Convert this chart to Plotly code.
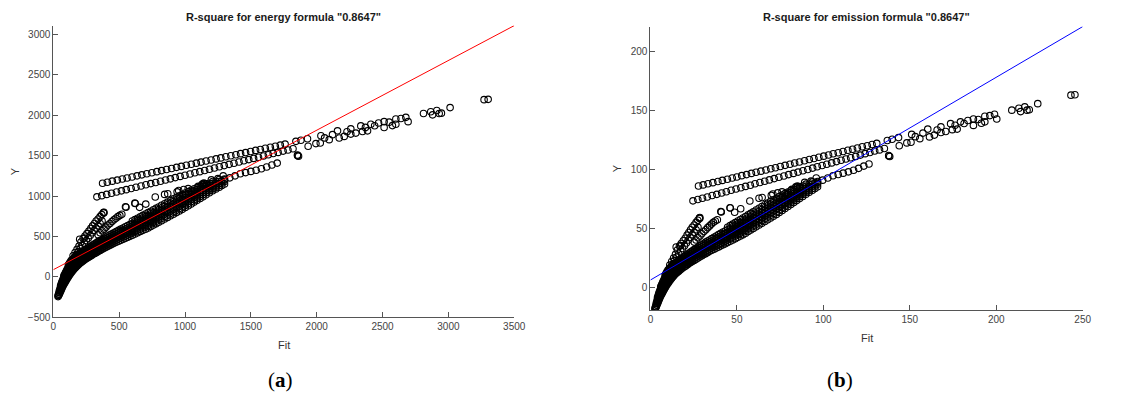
import plotly.graph_objects as go

# ---------------- energy panel data (Fit, Y) ----------------
# dense band, column by column: one x value and the y values read at that x
energy_band_x = [36, 45, 55, 65, 75, 85, 95, 108, 120, 135, 150, 165, 180, 200, 220, 240, 265, 290,
                 315, 340, 370, 400, 430, 460, 495, 530, 565, 600, 640, 680, 720, 760, 800, 845,
                 890, 935, 980, 1025, 1070, 1115, 1160, 1210, 1260, 1300,
                 40, 50, 60, 70, 80, 90, 101, 114, 127, 142, 157, 172, 190, 210, 230, 252, 277, 302,
                 327, 355, 385, 415, 445, 477, 512, 547, 582, 620, 660, 700, 740, 780, 822, 867, 912,
                 957, 1002, 1047, 1092, 1137, 1185, 1235, 1280]
energy_band_y = [
    [-245, -232], [-215, -195, -175], [-178, -155, -130, -110], [-142, -118, -92, -65],
    [-106, -82, -55, -25], [-76, -50, -22, 5, 25], [-50, -25, 0, 30, 60], [-15, 10, 40, 70, 100],
    [15, 40, 70, 100, 130, 160], [50, 75, 105, 135, 165, 200], [80, 105, 130, 160, 190, 220],
    [110, 132, 158, 185, 215, 245], [135, 158, 182, 208, 236, 265], [165, 188, 212, 238, 264, 290],
    [190, 212, 236, 260, 285, 310], [215, 237, 260, 283, 306, 330], [240, 262, 285, 308, 331, 355],
    [265, 287, 310, 333, 356, 380], [290, 313, 337, 361, 385, 410], [312, 336, 360, 385, 410, 435],
    [340, 364, 388, 412, 436, 460], [365, 390, 415, 440, 465, 490], [390, 416, 442, 468, 494, 520],
    [415, 441, 467, 493, 519, 545], [440, 467, 494, 521, 548, 575], [465, 493, 521, 549, 577, 605],
    [490, 518, 547, 576, 605, 635], [515, 544, 573, 602, 631, 660, 690],
    [545, 575, 605, 635, 665, 695, 725], [575, 605, 635, 665, 697, 728, 760],
    [605, 636, 667, 698, 730, 762, 795], [640, 671, 702, 733, 765, 797, 830],
    [675, 706, 737, 768, 800, 832, 865], [715, 746, 777, 808, 840, 872, 905],
    [755, 786, 817, 848, 880, 912, 945], [795, 826, 857, 888, 920, 952, 985],
    [835, 866, 897, 928, 959, 990, 1020], [880, 910, 940, 970, 1000, 1028, 1055],
    [925, 953, 981, 1009, 1036, 1063, 1090], [970, 996, 1022, 1048, 1073, 1097, 1120],
    [1015, 1040, 1065, 1090, 1113, 1135, 1150], [1065, 1088, 1111, 1134, 1157, 1180],
    [1110, 1133, 1156, 1180, 1205], [1150, 1180, 1210],
    [-230, -214], [-196, -175, -152], [-160, -136, -111, -88], [-124, -100, -74, -45],
    [-91, -66, -38, -10, 12], [-63, -38, -11, 17, 42], [-32, -8, 20, 50, 80],
    [0, 25, 55, 85, 115, 145], [32, 57, 87, 117, 147, 180], [65, 90, 118, 148, 178, 210],
    [95, 118, 144, 172, 202, 232], [122, 145, 170, 196, 225, 255], [150, 173, 197, 223, 250, 278],
    [178, 200, 224, 249, 274, 300], [202, 224, 248, 271, 295, 320], [228, 250, 272, 295, 318, 342],
    [252, 274, 297, 320, 343, 367], [278, 300, 323, 347, 370, 395], [301, 324, 348, 373, 397, 422],
    [326, 350, 374, 398, 423, 448], [352, 377, 401, 426, 450, 475], [378, 403, 428, 454, 480, 505],
    [402, 428, 454, 480, 506, 532], [428, 454, 480, 507, 533, 560], [452, 480, 507, 535, 562, 590],
    [478, 506, 534, 562, 591, 620], [502, 531, 560, 589, 618, 647],
    [530, 560, 589, 618, 648, 678, 708], [560, 590, 620, 650, 681, 712, 742],
    [590, 620, 651, 682, 714, 745, 778], [622, 654, 684, 716, 748, 780, 812],
    [658, 688, 720, 750, 782, 814, 848], [695, 726, 757, 788, 820, 852, 885],
    [735, 766, 797, 828, 860, 892, 925], [775, 806, 837, 868, 900, 932, 965],
    [815, 846, 877, 908, 940, 971, 1002], [858, 888, 918, 949, 980, 1009, 1038],
    [902, 932, 960, 990, 1018, 1046, 1072], [948, 975, 1002, 1028, 1054, 1080, 1105],
    [992, 1018, 1044, 1069, 1093, 1116, 1135], [1040, 1064, 1088, 1112, 1135, 1158],
    [1088, 1110, 1134, 1157, 1181], [1130, 1160, 1190],
]
energy_other_x = [
    # branch 1 (steep chain) + isolated
    150, 165, 180, 195, 210, 226, 240, 255, 270, 285, 298, 312, 325, 340, 355, 368, 381, 384, 383, 200, 235,
    160, 175, 190, 205, 220, 235, 250, 265, 280, 295, 310, 325, 340, 355, 370,
    # branch 2
    340, 355, 370, 385, 400, 415, 430, 445, 460, 475, 490, 505, 520, 548, 552, 619, 622,
    # scattered above band
    774, 845, 869, 940, 952, 1024, 1060, 1131, 1143, 1146, 655, 702, 1290, 1250, 1200, 990, 1100,
    # row A
    374, 410, 448, 486, 524, 560, 598, 636, 672, 710, 748, 786, 822, 860, 898, 936, 972, 1010, 1048,
    1086, 1122, 1160, 1198, 1236, 1272, 1310, 1348, 1386, 1422, 1460, 1498, 1536, 1572, 1610, 1648,
    1686, 1724, 1760,
    # row B
    331, 368, 405, 442, 480, 517, 554, 591, 628, 666, 703, 740, 777, 814, 852, 889, 926, 963, 1000,
    1038, 1075, 1112, 1149, 1186, 1224, 1261, 1298, 1335, 1372, 1410, 1447, 1484, 1521, 1558, 1596,
    1633, 1670, 1707, 1745, 1782, 1820,
    # row C
    1300, 1340, 1380, 1420, 1460, 1500, 1540, 1580, 1620, 1660, 1700, 1855, 1862,
    # sparse upper right
    1842, 1930, 2032, 2158, 2259, 2335, 2411, 2512, 2601, 2677, 2811, 2866, 2912, 3013, 3271, 3302,
    1854, 1935, 1994, 2027, 2095, 2171, 2209, 2259, 2297, 2348, 2386, 2512, 2575, 2601, 2694, 2930, 2947,
    1880, 2060, 2120, 2230, 2370, 2440, 2470, 2550, 2640, 2880,
]
energy_other_y = [
    260, 300, 340, 380, 430, 475, 505, 535, 565, 600, 630, 660, 690, 715, 745, 770, 795, 800, 790, 465, 480,
    240, 275, 312, 350, 385, 418, 448, 478, 510, 545, 575, 605, 632, 660, 690,
    520, 545, 570, 590, 615, 640, 660, 685, 705, 725, 745, 760, 775, 868, 862, 912, 908,
    988, 1020, 1028, 1052, 1068, 1092, 1060, 1148, 1160, 1150, 860, 900, 1250, 1215, 1200, 1080, 1120,
    1158, 1171, 1184, 1197, 1210, 1223, 1236, 1250, 1262, 1276, 1289, 1302, 1315, 1328, 1341, 1355, 1367,
    1381, 1394, 1407, 1420, 1433, 1446, 1460, 1472, 1486, 1499, 1512, 1525, 1538, 1551, 1565, 1577, 1591,
    1604, 1617, 1630, 1643,
    990, 1005, 1020, 1034, 1050, 1064, 1079, 1094, 1109, 1124, 1139, 1154, 1168, 1183, 1198, 1213, 1228,
    1243, 1258, 1273, 1288, 1302, 1317, 1332, 1347, 1362, 1377, 1392, 1406, 1422, 1436, 1451, 1466, 1481,
    1496, 1511, 1526, 1540, 1556, 1570, 1586,
    1200, 1225, 1250, 1275, 1290, 1305, 1320, 1338, 1360, 1385, 1408, 1500, 1494,
    1677, 1710, 1746, 1807, 1832, 1868, 1888, 1921, 1953, 1974, 2022, 2043, 2059, 2095, 2193, 2197,
    1507, 1617, 1649, 1657, 1698, 1718, 1738, 1767, 1779, 1799, 1807, 1848, 1872, 1888, 1921, 2022, 2026,
    1690, 1720, 1760, 1795, 1850, 1870, 1905, 1915, 1960, 2005,
]
energy_fit_x = [0, 3500]
energy_fit_y = [88, 3110]

# ---------------- emission panel data (Fit, Y) ----------------
emission_band_x = [2.68, 3.35, 4.09, 4.83, 5.58, 6.32, 7.06, 8.03, 8.92, 10.04, 11.15, 12.27, 13.38,
                   14.87, 16.36, 17.84, 19.70, 21.56, 23.42, 25.28, 27.51, 29.74, 31.97, 34.20, 36.80,
                   39.41, 42.01, 44.61, 47.58, 50.56, 53.53, 56.51, 59.48, 62.83, 66.17, 69.52, 72.86,
                   76.21, 79.55, 82.90, 86.25, 89.96, 93.68, 96.65,
                   2.97, 3.72, 4.46, 5.20, 5.95, 6.69, 7.51, 8.48, 9.44, 10.56, 11.67, 12.79, 14.13,
                   15.61, 17.10, 18.74, 20.59, 22.45, 24.31, 26.39, 28.62, 30.86, 33.09, 35.46, 38.07,
                   40.67, 43.27, 46.10, 49.07, 52.04, 55.02, 57.99, 61.12, 64.46, 67.81, 71.15, 74.50,
                   77.84, 81.19, 84.54, 88.10, 91.82, 95.17]
emission_band_y = [
    [-18.2, -17.2], [-16.0, -14.5, -13.0], [-13.2, -11.5, -9.7, -8.2], [-10.6, -8.8, -6.8, -4.8],
    [-7.9, -6.1, -4.1, -1.9], [-5.7, -3.7, -1.6, 0.4, 1.9], [-3.7, -1.9, 0.0, 2.2, 4.5],
    [-1.1, 0.7, 3.0, 5.2, 7.4], [1.1, 3.0, 5.2, 7.4, 9.7, 11.9], [3.7, 5.6, 7.8, 10.0, 12.3, 14.9],
    [5.9, 7.8, 9.7, 11.9, 14.1, 16.4], [8.2, 9.8, 11.7, 13.8, 16.0, 18.2],
    [10.0, 11.7, 13.5, 15.5, 17.5, 19.7], [12.3, 14.0, 15.8, 17.7, 19.6, 21.6],
    [14.1, 15.8, 17.5, 19.3, 21.2, 23.0], [16.0, 17.6, 19.3, 21.0, 22.8, 24.5],
    [17.8, 19.5, 21.2, 22.9, 24.6, 26.4], [19.7, 21.3, 23.0, 24.8, 26.5, 28.3],
    [21.6, 23.3, 25.1, 26.8, 28.6, 30.5], [23.2, 25.0, 26.8, 28.6, 30.5, 32.3],
    [25.3, 27.1, 28.8, 30.6, 32.4, 34.2], [27.1, 29.0, 30.9, 32.7, 34.6, 36.4],
    [29.0, 30.9, 32.9, 34.8, 36.7, 38.7], [30.9, 32.8, 34.7, 36.7, 38.6, 40.5],
    [32.7, 34.7, 36.7, 38.7, 40.7, 42.8], [34.6, 36.7, 38.7, 40.8, 42.9, 45.0],
    [36.4, 38.5, 40.7, 42.8, 45.0, 47.2], [38.3, 40.4, 42.6, 44.8, 46.9, 49.1, 51.3],
    [40.5, 42.8, 45.0, 47.2, 49.4, 51.7, 53.9], [42.8, 45.0, 47.2, 49.4, 51.8, 54.1, 56.5],
    [45.0, 47.3, 49.6, 51.9, 54.3, 56.7, 59.1], [47.6, 49.9, 52.2, 54.5, 56.9, 59.3, 61.7],
    [50.2, 52.5, 54.8, 57.1, 59.5, 61.9, 64.3], [53.2, 55.5, 57.8, 60.1, 62.5, 64.8, 67.3],
    [56.1, 58.4, 60.7, 63.0, 65.4, 67.8, 70.3], [59.1, 61.4, 63.7, 66.0, 68.4, 70.8, 73.2],
    [62.1, 64.4, 66.7, 69.0, 71.3, 73.6, 75.8], [65.4, 67.7, 69.9, 72.1, 74.3, 76.4, 78.4],
    [68.8, 70.9, 72.9, 75.0, 77.0, 79.0, 81.0], [72.1, 74.1, 76.0, 77.9, 79.8, 81.6, 83.3],
    [75.5, 77.3, 79.2, 81.0, 82.8, 84.4, 85.5], [79.2, 80.9, 82.6, 84.3, 86.0, 87.7],
    [82.5, 84.2, 85.9, 87.7, 89.6], [85.5, 87.7, 90.0],
    [-17.1, -15.9], [-14.6, -13.0, -11.3], [-11.9, -10.1, -8.3, -6.5], [-9.2, -7.4, -5.5, -3.3],
    [-6.8, -4.9, -2.8, -0.7, 0.9], [-4.7, -2.8, -0.8, 1.3, 3.1], [-2.4, -0.6, 1.5, 3.7, 5.9],
    [0.0, 1.9, 4.1, 6.3, 8.6, 10.8], [2.4, 4.2, 6.5, 8.7, 10.9, 13.4], [4.8, 6.7, 8.8, 11.0, 13.2, 15.6],
    [7.1, 8.8, 10.7, 12.8, 15.0, 17.2], [9.1, 10.8, 12.6, 14.6, 16.7, 19.0],
    [11.2, 12.9, 14.6, 16.6, 18.6, 20.7], [13.2, 14.9, 16.7, 18.5, 20.4, 22.3],
    [15.0, 16.7, 18.4, 20.1, 21.9, 23.8], [17.0, 18.6, 20.2, 21.9, 23.6, 25.4],
    [18.7, 20.4, 22.1, 23.8, 25.5, 27.3], [20.7, 22.3, 24.0, 25.8, 27.5, 29.4],
    [22.4, 24.1, 25.9, 27.7, 29.5, 31.4], [24.2, 26.0, 27.8, 29.6, 31.4, 33.3],
    [26.2, 28.0, 29.8, 31.7, 33.5, 35.3], [28.1, 30.0, 31.8, 33.8, 35.7, 37.5],
    [29.9, 31.8, 33.8, 35.7, 37.6, 39.6], [31.8, 33.8, 35.7, 37.7, 39.6, 41.6],
    [33.6, 35.7, 37.7, 39.8, 41.8, 43.9], [35.5, 37.6, 39.7, 41.8, 43.9, 46.1],
    [37.3, 39.5, 41.6, 43.8, 45.9, 48.1], [39.4, 41.6, 43.8, 45.9, 48.2, 50.4, 52.6],
    [41.6, 43.9, 46.1, 48.3, 50.6, 52.9, 55.2], [43.9, 46.1, 48.4, 50.7, 53.1, 55.4, 57.8],
    [46.2, 48.6, 50.9, 53.2, 55.6, 58.0, 60.4], [48.9, 51.2, 53.5, 55.8, 58.1, 60.5, 63.0],
    [51.7, 54.0, 56.3, 58.6, 61.0, 63.3, 65.8], [54.6, 57.0, 59.3, 61.6, 63.9, 66.3, 68.8],
    [57.6, 59.9, 62.2, 64.5, 66.9, 69.3, 71.7], [60.6, 62.9, 65.2, 67.5, 69.9, 72.2, 74.5],
    [63.8, 66.0, 68.3, 70.6, 72.9, 75.0, 77.2], [67.1, 69.3, 71.4, 73.6, 75.7, 77.8, 79.7],
    [70.5, 72.5, 74.5, 76.4, 78.4, 80.3, 82.2], [73.8, 75.7, 77.6, 79.5, 81.3, 83.0, 84.4],
    [77.3, 79.1, 80.9, 82.7, 84.4, 86.1], [80.9, 82.5, 84.3, 86.0, 87.8], [84.0, 86.2, 88.5],
]
emission_other_x = [
    11.2, 12.3, 13.4, 14.5, 15.6, 16.8, 17.8, 19.0, 20.1, 21.2, 22.2, 23.2, 24.2, 25.3, 26.4, 27.4,
    28.3, 28.6, 28.5, 14.9, 17.5,
    11.9, 13.0, 14.1, 15.2, 16.4, 17.5, 18.6, 19.7, 20.8, 21.9, 23.0, 24.2, 25.3, 26.4, 27.5,
    25.3, 26.4, 27.5, 28.6, 29.7, 30.9, 32.0, 33.1, 34.2, 35.3, 36.4, 37.5, 38.7, 40.7, 41.0, 46.0, 46.2,
    57.5, 62.8, 64.6, 69.9, 70.8, 76.1, 78.8, 84.1, 85.0, 85.2, 48.7, 52.2, 95.9, 92.9, 89.2, 73.6, 81.8,
    27.8, 30.5, 33.3, 36.1, 39.0, 41.6, 44.5, 47.3, 50.0, 52.8, 55.6, 58.4, 61.1, 63.9, 66.8, 69.6, 72.3,
    75.1, 77.9, 80.7, 83.4, 86.2, 89.1, 91.9, 94.6, 97.4, 100.2, 103.0, 105.7, 108.6, 111.4, 114.2,
    116.9, 119.7, 122.5, 125.4, 128.2, 130.9,
    24.6, 27.4, 30.1, 32.9, 35.7, 38.4, 41.2, 43.9, 46.7, 49.5, 52.3, 55.0, 57.8, 60.5, 63.3, 66.1, 68.8,
    71.6, 74.3, 77.2, 79.9, 82.7, 85.4, 88.2, 91.0, 93.8, 96.5, 99.3, 102.0, 104.8, 107.6, 110.3, 113.1,
    115.8, 118.7, 121.4, 124.2, 126.9, 129.7, 132.5, 135.3,
    96.7, 99.6, 102.6, 105.6, 108.6, 111.5, 114.5, 117.5, 120.4, 123.4, 126.4, 137.9, 138.4,
    137.0, 143.5, 151.1, 160.4, 168.0, 173.6, 179.3, 186.8, 193.4, 199.0, 209.0, 213.1, 216.5, 224.0,
    243.2, 245.5,
    137.8, 143.9, 148.3, 150.7, 155.8, 161.4, 164.2, 168.0, 170.8, 174.6, 177.4, 186.8, 191.4, 193.4,
    200.3, 217.8, 219.1,
    139.8, 153.2, 157.6, 165.8, 176.2, 181.4, 183.6, 189.6, 196.3, 214.1,
]
emission_other_y = [
    19.3, 22.3, 25.3, 28.3, 32.0, 35.3, 37.5, 39.8, 42.0, 44.6, 46.8, 49.1, 51.3, 53.2, 55.4, 57.2,
    59.1, 59.5, 58.7, 34.6, 35.7,
    17.8, 20.4, 23.2, 26.0, 28.6, 31.1, 33.3, 35.5, 37.9, 40.5, 42.8, 45.0, 47.0, 49.1, 51.3,
    38.7, 40.5, 42.4, 43.9, 45.7, 47.6, 49.1, 50.9, 52.4, 53.9, 55.4, 56.5, 57.6, 64.5, 64.1, 67.8, 67.5,
    73.5, 75.8, 76.4, 78.2, 79.4, 81.2, 78.8, 85.4, 86.2, 85.5, 63.9, 66.9, 92.9, 90.3, 89.2, 80.3, 83.3,
    86.1, 87.1, 88.0, 89.0, 90.0, 90.9, 91.9, 92.9, 93.8, 94.9, 95.8, 96.8, 97.8, 98.7, 99.7, 100.7, 101.6,
    102.7, 103.6, 104.6, 105.6, 106.5, 107.5, 108.6, 109.4, 110.5, 111.4, 112.4, 113.4, 114.3, 115.3,
    116.4, 117.2, 118.3, 119.3, 120.2, 121.2, 122.2,
    73.6, 74.7, 75.8, 76.9, 78.1, 79.1, 80.2, 81.3, 82.5, 83.6, 84.7, 85.8, 86.8, 88.0, 89.1, 90.2, 91.3,
    92.4, 93.5, 94.6, 95.8, 96.8, 97.9, 99.0, 100.1, 101.3, 102.4, 103.5, 104.5, 105.7, 106.8, 107.9,
    109.0, 110.1, 111.2, 112.3, 113.5, 114.5, 115.7, 116.7, 117.9,
    89.2, 91.1, 92.9, 94.8, 95.9, 97.0, 98.1, 99.5, 101.1, 103.0, 104.7, 111.5, 111.1,
    124.7, 127.1, 129.8, 134.3, 136.2, 138.9, 140.4, 142.8, 145.2, 146.8, 150.3, 151.9, 153.1, 155.8,
    163.0, 163.3,
    112.0, 120.2, 122.6, 123.2, 126.2, 127.7, 129.2, 131.4, 132.3, 133.8, 134.3, 137.4, 139.2, 140.4,
    142.8, 150.3, 150.6,
    125.7, 127.9, 130.9, 133.5, 137.5, 139.0, 141.6, 142.4, 145.7, 149.1,
]
emission_fit_x = [0, 250]
emission_fit_y = [6.6, 221]

energy_xticks = [0, 500, 1000, 1500, 2000, 2500, 3000, 3500]
energy_yticks = [-500, 0, 500, 1000, 1500, 2000, 2500, 3000]
emission_xticks = [0, 50, 100, 150, 200, 250]
emission_yticks = [0, 50, 100, 150, 200]

titles = ['R-square for energy formula "0.8647"', 'R-square for emission formula "0.8647"']
panel_labels = ["(<b>a</b>)", "(<b>b</b>)"]


def flatten(cols_x, cols_y):
    xs, ys = [], []
    for x, col in zip(cols_x, cols_y):
        for y in col:
            xs.append(x)
            ys.append(y)
    return xs, ys


W, H = 1148, 401
fig = go.Figure()

marker = dict(symbol="circle-open", size=6.5, color="black", line=dict(width=1.1, color="black"))

ebx, eby = flatten(energy_band_x, energy_band_y)
fig.add_trace(go.Scatter(x=ebx + energy_other_x, y=eby + energy_other_y, mode="markers",
                         marker=marker, xaxis="x", yaxis="y", showlegend=False, hoverinfo="skip"))
fig.add_trace(go.Scatter(x=energy_fit_x, y=energy_fit_y, mode="lines",
                         line=dict(color="#ff0000", width=1), xaxis="x", yaxis="y", showlegend=False,
                         hoverinfo="skip"))

mbx, mby = flatten(emission_band_x, emission_band_y)
fig.add_trace(go.Scatter(x=mbx + emission_other_x, y=mby + emission_other_y, mode="markers",
                         marker=marker, xaxis="x2", yaxis="y2", showlegend=False, hoverinfo="skip"))
fig.add_trace(go.Scatter(x=emission_fit_x, y=emission_fit_y, mode="lines",
                         line=dict(color="#0000ff", width=1), xaxis="x2", yaxis="y2", showlegend=False,
                         hoverinfo="skip"))

# window pixel geometry of the two axes boxes
L1, R1, T1, B1 = 51, 518, 26, 322
L2, R2, T2, B2 = 656, 1094, 27, 315

axis_style = dict(showline=True, linecolor="#555555", linewidth=1, ticks="inside", ticklen=5,
                  tickcolor="#555555", tickfont=dict(family="Liberation Sans, Arial", size=10, color="#444444"),
                  showgrid=False, zeroline=False, mirror=False, fixedrange=True)

fig.update_layout(
    width=W, height=H, margin=dict(l=0, r=0, t=0, b=0),
    paper_bgcolor="white", plot_bgcolor="white", hovermode=False,
    xaxis=dict(domain=[L1 / W, R1 / W], range=[0, 3500], tickvals=energy_xticks, anchor="y", **axis_style),
    yaxis=dict(domain=[(H - B1) / H, (H - T1) / H], range=[-500, 3110], tickvals=energy_yticks,
               anchor="x", **axis_style),
    xaxis2=dict(domain=[L2 / W, R2 / W], range=[0, 250], tickvals=emission_xticks, anchor="y2", **axis_style),
    yaxis2=dict(domain=[(H - B2) / H, (H - T2) / H], range=[-19, 221], tickvals=emission_yticks,
                anchor="x2", **axis_style),
)

ann = []
for (l, r, title, lab, fit_y, ylab_x, ylab_y, plab_x) in [
    (L1, R1, titles[0], panel_labels[0], 350, 13, 174, 281),
    (L2, R2, titles[1], panel_labels[1], 343, 623, 171, 848),
]:
    cx = (l + r) / 2
    ann.append(dict(x=cx / W, y=1 - 17 / H, xref="paper", yref="paper", text="<b>" + title + "</b>",
                    showarrow=False, font=dict(family="Liberation Sans, Arial", size=11, color="#1a1a1a"),
                    xanchor="center", yanchor="middle"))
    ann.append(dict(x=cx / W, y=1 - fit_y / H, xref="paper", yref="paper", text="Fit", showarrow=False,
                    font=dict(family="Liberation Sans, Arial", size=11, color="#333333"),
                    xanchor="center", yanchor="middle"))
    ann.append(dict(x=ylab_x / W, y=1 - ylab_y / H, xref="paper", yref="paper", text="Y",
                    showarrow=False, textangle=-90,
                    font=dict(family="Liberation Sans, Arial", size=11, color="#333333"),
                    xanchor="center", yanchor="middle"))
    ann.append(dict(x=plab_x / W, y=1 - 386 / H, xref="paper", yref="paper", text=lab,
                    showarrow=False, font=dict(family="Liberation Serif, Times New Roman, serif", size=21,
                                               color="black"),
                    xanchor="center", yanchor="middle"))
fig.update_layout(annotations=ann)

# remove the default page margin so the 1148x401 figure fills the window exactly
fig.write_html("out.html", config={"displayModeBar": False, "staticPlot": True},
               post_script="document.body.style.margin='0';"
                           "document.documentElement.style.overflow='hidden';")
